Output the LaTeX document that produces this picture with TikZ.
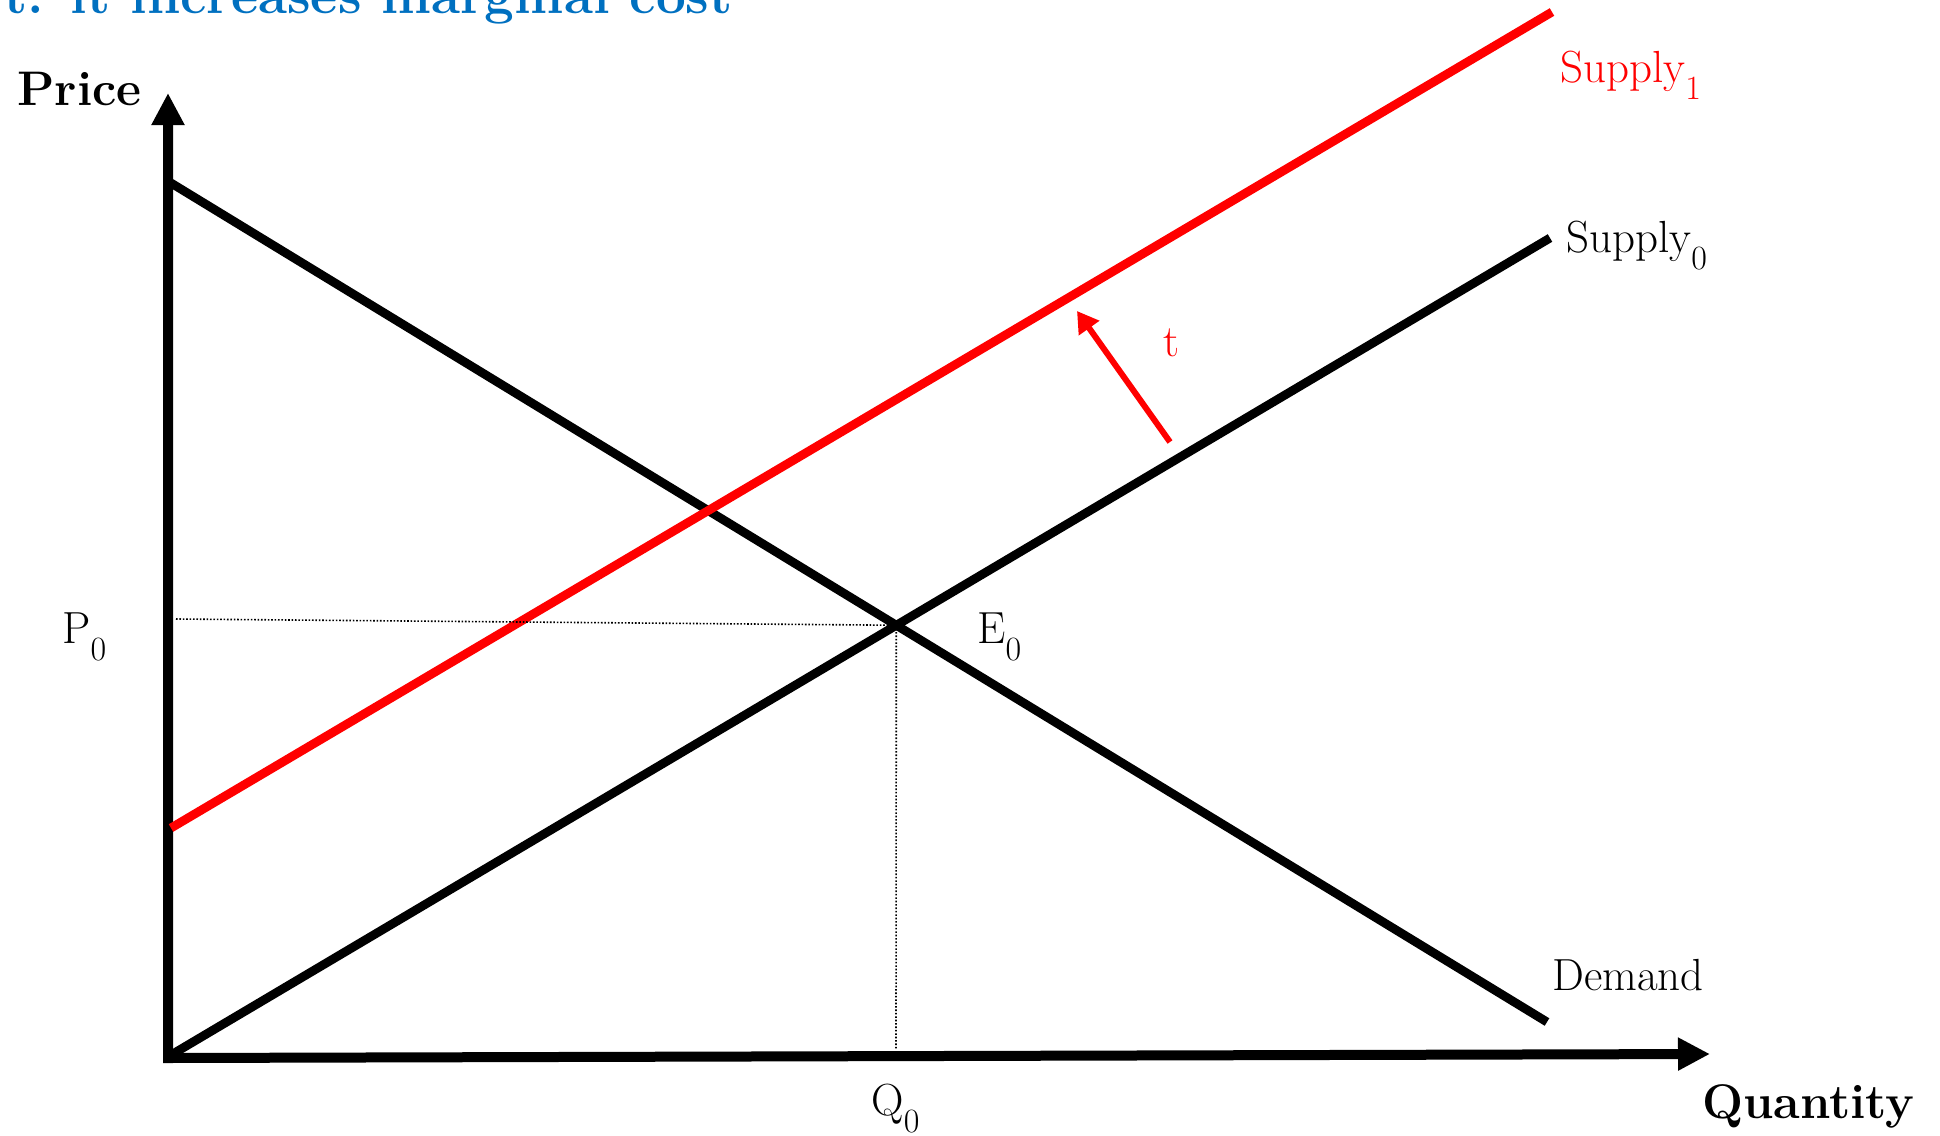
\documentclass[tikz,border=0pt]{standalone}
\usepackage{fontspec}
\usetikzlibrary{arrows.meta}
\definecolor{titleblue}{RGB}{0,112,192}
\definecolor{taxred}{RGB}{255,0,0}
\newcommand{\lbsub}[1]{\raisebox{-8.5pt}{\fontsize{17}{17}\selectfont #1}}
\begin{document}
\begin{tikzpicture}[x=0.5pt,y=-0.5pt,
  lbl/.style={inner sep=0pt, anchor=base west, font=\fontsize{22.5}{27}\selectfont},
  axlbl/.style={inner sep=0pt, anchor=base west, font=\fontsize{24.3}{29}\selectfont\bfseries},
  titlelbl/.style={inner sep=0pt, anchor=base east, text=titleblue, font=\fontsize{26.5}{32}\selectfont\bfseries},
  axisline/.style={line width=5pt, line join=miter, {Triangle[length=16pt,width=15.5pt]}-{Triangle[length=16pt,width=15.5pt]}},
  curve/.style={line width=4.4pt, line cap=butt},
  guide/.style={line width=0.8pt, dash pattern=on 0.8pt off 0.9pt},
  taxarrow/.style={line width=3pt, draw=taxred, -{Triangle[length=10.5pt,width=12pt]}}]
\useasboundingbox (0,0) rectangle (1940,1136);

% title (cut at top)
\node[titlelbl] (title) at (733,13) {t: it increases marginal cost};

% axes
\coordinate (O) at (168,1058);
\coordinate (ytip) at (168,93);
\coordinate (xtip) at (1710,1054);
\draw[axisline] (ytip) -- (O) -- (xtip);

% curves
\coordinate (D1) at (171,183);
\coordinate (D2) at (1547,1022);
\coordinate (S01) at (171,1055);
\coordinate (S02) at (1550,238);
\coordinate (S11) at (171,828);
\coordinate (S12) at (1552,12);
\draw[curve] (D1) -- (D2);
\draw[curve] (S01) -- (S02);
\draw[curve, draw=taxred] (S11) -- (S12);

% equilibrium and guides
\coordinate (E) at (intersection of D1--D2 and S01--S02);
\coordinate (pstart) at (176,619);
\coordinate (qfoot) at (896,1050);
\draw[guide] (pstart) -- (E);
\draw[guide] (E) -- (qfoot);

% tax arrow
\coordinate (ttail) at (1170,442);
\coordinate (thead) at (1077,311);
\draw[taxarrow] (ttail) -- (thead);

% labels
\node[axlbl] (price) at (17,105) {Price};
\node[axlbl] (quantity) at (1702,1118) {Quantity};
\node[lbl, text=taxred] (s1lbl) at (1560,82) {Supply\lbsub{1}};
\node[lbl] (s0lbl) at (1566,252) {Supply\lbsub{0}};
\node[lbl] (dlbl) at (1552,990) {Demand};
\node[lbl] (p0lbl) at (62,643) {P\lbsub{0}};
\node[lbl] (e0lbl) at (977,643) {E\lbsub{0}};
\node[lbl] (q0lbl) at (871,1115) {Q\lbsub{0}};
\node[lbl, text=taxred] (tlbl) at (1163,356) {t};
\end{tikzpicture}
\end{document}
